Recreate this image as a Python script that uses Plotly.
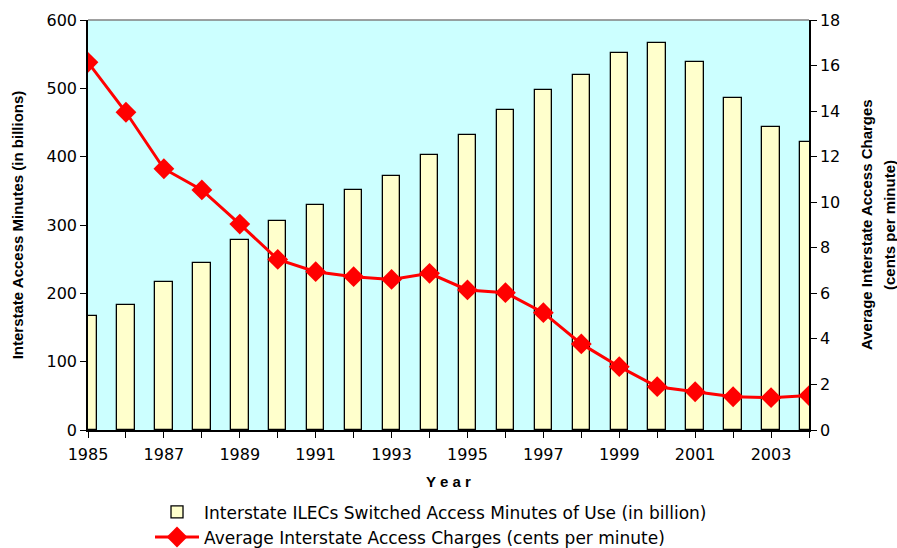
import plotly.graph_objects as go

years = list(range(1985, 2005))
minutes_billion = [167, 183, 216, 245, 278, 306, 329, 351, 372, 402,
                   431, 468, 497, 520, 552, 566, 538, 486, 443, 422]
charges_cents = [16.14, 13.95, 11.47, 10.54, 9.04, 7.49, 6.95, 6.73, 6.61, 6.88,
                 6.15, 6.03, 5.15, 3.78, 2.78, 1.90, 1.68, 1.46, 1.42, 1.51]

bar_name = "Interstate ILECs Switched Access Minutes of Use (in billion)"
line_name = "Average Interstate Access Charges (cents per minute)"
left_title = "Interstate Access Minutes (in billions)"
right_title_lines = ["Average Interstate Access Charges", "(cents per minute)"]
year_labels = [str(y) if (y - 1985) % 2 == 0 else "" for y in years]

TICK_FONT = "DejaVu Sans, Verdana, sans-serif"
TITLE_FONT = "Liberation Sans, Arial, sans-serif"

fig = go.Figure()
fig.add_trace(go.Bar(
    x=years, y=minutes_billion, name=bar_name, width=0.46,
    marker=dict(color="#FFFFCC", line=dict(color="black", width=1.3)),
))
fig.add_trace(go.Scatter(
    x=years, y=charges_cents, name=line_name, yaxis="y2",
    mode="lines+markers",
    line=dict(color="#FF0000", width=3),
    marker=dict(symbol="diamond", size=16, color="#FF0000"),
))

axis_common = dict(
    showgrid=False, zeroline=False,
    showline=True, linecolor="black", linewidth=1.5,
    ticks="outside", ticklen=6, tickcolor="black", tickwidth=1,
    tickfont=dict(size=16, family=TICK_FONT, color="black"),
)

fig.update_layout(
    width=897, height=548,
    margin=dict(l=88, r=88, t=20, b=118, autoexpand=False),
    paper_bgcolor="white",
    plot_bgcolor="#CCFFFF",
    font=dict(family=TICK_FONT, size=16, color="black"),
    showlegend=True,
    legend=dict(
        x=0.086, y=-0.157, xanchor="left", yanchor="top",
        orientation="v", font=dict(size=17, family=TICK_FONT),
        tracegroupgap=0, itemwidth=44, bgcolor="rgba(0,0,0,0)",
    ),
    bargap=0,
    xaxis=dict(
        range=[1985, 2004], tickvals=years, ticktext=year_labels,
        ticklabelstandoff=3,
        title=dict(text="<b>Y e a r</b>",
                   font=dict(size=15, family=TITLE_FONT), standoff=14),
        **axis_common,
    ),
    yaxis=dict(
        range=[0, 600], dtick=100,
        title=dict(text="<b>" + left_title + "</b>",
                   font=dict(size=15, family=TITLE_FONT), standoff=19),
        **axis_common,
    ),
    yaxis2=dict(
        range=[0, 18], dtick=2, overlaying="y", side="right",
        **axis_common,
    ),
    shapes=[dict(type="line", xref="paper", yref="paper", x0=0, x1=1, y0=1, y1=1,
                 line=dict(color="#808080", width=1.5))],
    annotations=[
        dict(text="<b>" + right_title_lines[0] + "</b>", textangle=-90,
             xref="paper", yref="paper", x=1, y=0.5, xshift=57,
             xanchor="center", yanchor="middle", showarrow=False,
             font=dict(size=15, family=TITLE_FONT)),
        dict(text="<b>" + right_title_lines[1] + "</b>", textangle=-90,
             xref="paper", yref="paper", x=1, y=0.5, xshift=80,
             xanchor="center", yanchor="middle", showarrow=False,
             font=dict(size=15, family=TITLE_FONT)),
    ],
)

fig.write_html("out.html")
